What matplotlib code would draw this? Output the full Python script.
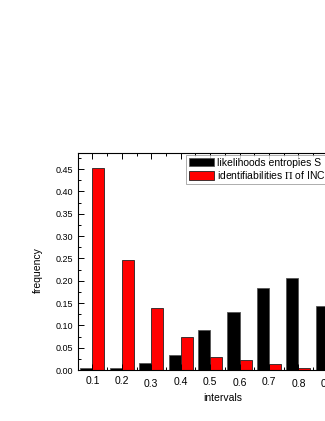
import numpy as np
import matplotlib
matplotlib.use('Agg')
import matplotlib.pyplot as plt
from matplotlib.ticker import MultipleLocator, FixedLocator
import matplotlib.transforms as mtransforms

plt.rcParams['font.family'] = ['Liberation Sans', 'DejaVu Sans']
plt.rcParams['mathtext.fontset'] = 'stix'

# data
intervals = [0.1, 0.2, 0.3, 0.4, 0.5, 0.6, 0.7, 0.8, 0.9]
tick_labels = ['0.1', '0.2', '0.3', '0.4', '0.5', '0.6', '0.7', '0.8', '0.9']
entropies = [0.005, 0.004, 0.016, 0.034, 0.090, 0.131, 0.183, 0.205, 0.144]
identifiabilities = [0.452, 0.247, 0.139, 0.075, 0.030, 0.022, 0.014, 0.005, 0.0]

W, H = 325, 421
fig = plt.figure(figsize=(W / 100, H / 100), dpi=100)
# axes run past the right edge of the figure, as in the original
ax = fig.add_axes([77.7 / W, 1 - 370 / H, (372 - 77.7) / W, (370 - 153) / H])

x = np.array(intervals)
w = 0.041
ax.bar(x - w / 2, entropies, w, color='black', edgecolor='#555555', lw=0.6,
       label='likelihoods entropies S')
ax.bar(x + w / 2, identifiabilities, w, color='#ff0000', edgecolor='#222222', lw=0.6,
       label='identifiabilities $\\Pi$ of INCs')

ax.set_xlim(0.05, 1.05)
ax.set_ylim(0, 0.486)
ax.xaxis.set_major_locator(FixedLocator(intervals))
ax.set_xticklabels(tick_labels)
ax.xaxis.set_minor_locator(MultipleLocator(0.05))
ax.yaxis.set_major_locator(MultipleLocator(0.05))
ax.yaxis.set_minor_locator(MultipleLocator(0.025))
ax.yaxis.set_major_formatter(plt.FormatStrFormatter('%.2f'))

ax.tick_params(which='both', direction='in', top=True, right=True, width=0.7)
ax.tick_params(which='major', length=4)
ax.tick_params(which='minor', length=2)
ax.tick_params(axis='y', labelsize=6.5, pad=3.5)
ax.tick_params(axis='x', labelsize=7.5, pad=4)
for s in ax.spines.values():
    s.set_linewidth(0.8)

# small vertical jitter of the x labels seen in the original
shifts = [0, 0, -3, -1, -1, -2, -1, -3, -3]
for lab, d in zip(ax.get_xticklabels(), shifts):
    lab.set_transform(lab.get_transform() +
                      mtransforms.ScaledTranslation(0, d / 100, fig.dpi_scale_trans))

ax.set_xlabel('intervals', fontsize=7.5)
ax.xaxis.set_label_coords((223 - 77.7) / (372 - 77.7), -(393 - 370) / (370 - 153))
ax.set_ylabel('frequency', fontsize=7.5)
ax.yaxis.set_label_coords(-(77.7 - 43) / (372 - 77.7), (370 - 270) / (370 - 153))

leg = ax.legend(loc='upper left', bbox_to_anchor=(186 / W, 1 - 155 / H),
                bbox_transform=fig.transFigure, fontsize=7.5, fancybox=False,
                frameon=True, edgecolor='#888888', handlelength=2.4,
                handleheight=0.9, handletextpad=0.3, borderpad=0.25,
                labelspacing=0.15, borderaxespad=0)
leg.get_frame().set_linewidth(0.6)

fig.savefig('out.png', dpi=100)
